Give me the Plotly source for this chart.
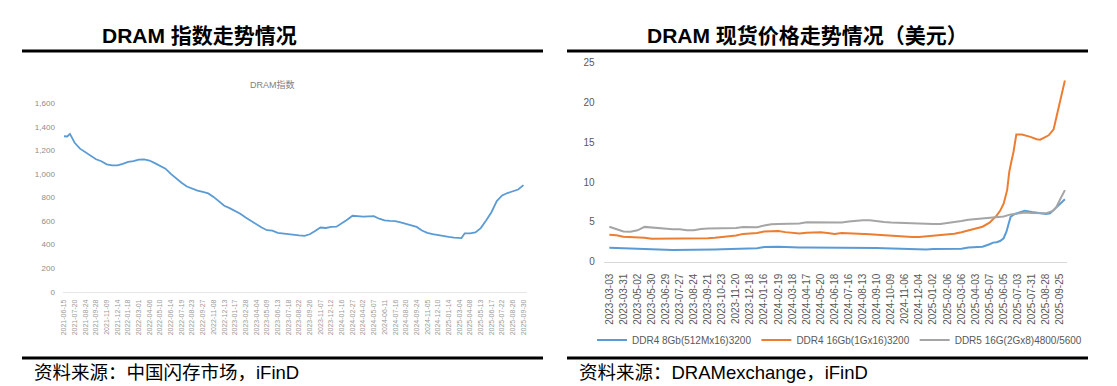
import plotly.graph_objects as go

# The page body keeps its default 8px margin, so the figure is drawn 8px smaller
# and every reference pixel position p is mapped to p - 8 inside the figure.
PAGE_W, PAGE_H = 1117, 386
OFF = 8
W, H = PAGE_W - OFF, PAGE_H - OFF
FONT = "Liberation Sans, Arial, Noto Sans CJK SC"

# ---------------- Left chart: DRAM index (weekly) ----------------
index_weeks = [0, 1.5, 2.8, 5, 7.5, 10, 12.5, 15, 17.5, 20, 22.5, 25, 27.5, 30, 32.5, 35,
               37.5, 40, 42.5, 45, 47.5, 50, 52.5, 55, 57.5, 60, 62.5, 65, 67.5, 70, 72.5,
               75, 77.5, 80, 82.5, 85, 87.5, 90, 92.5, 95, 97.5, 100, 102.5, 105, 107.5,
               110, 112.5, 115, 117.5, 120, 122.5, 125, 127.5, 130, 132.5, 135, 137.5, 140,
               142.5, 145, 147.5, 150, 152.5, 155, 157.5, 160, 162.5, 165, 167.5, 170,
               172.5, 175, 177.5, 180, 182.5, 186, 187.5, 190, 192.5, 195, 197.5, 200,
               202.5, 205, 207.5, 210, 212.5, 215]
index_values = [1320, 1318, 1340, 1265, 1215, 1185, 1162, 1125, 1108, 1082, 1073, 1073, 1086,
                1103, 1108, 1122, 1124, 1114, 1092, 1070, 1045, 1000, 960, 925, 893, 872, 858,
                847, 835, 805, 770, 730, 710, 688, 662, 630, 600, 570, 545, 522, 518, 500, 493,
                488, 484, 478, 474, 488, 516, 545, 541, 550, 552, 580, 612, 645, 640, 637, 640,
                642, 620, 605, 601, 600, 588, 575, 566, 550, 520, 500, 488, 479, 472, 465, 459,
                455, 496, 496, 503, 540, 605, 675, 770, 818, 838, 855, 868, 905]
index_tick_labels = ["2021-06-15", "2021-07-20", "2021-08-24", "2021-09-28", "2021-11-09",
                     "2021-12-14", "2022-01-18", "2022-03-01", "2022-04-06", "2022-05-10",
                     "2022-06-14", "2022-07-19", "2022-08-23", "2022-09-27", "2022-11-08",
                     "2022-12-13", "2023-01-17", "2023-02-28", "2023-04-04", "2023-05-09",
                     "2023-06-13", "2023-07-18", "2023-08-22", "2023-09-26", "2023-11-07",
                     "2023-12-12", "2024-01-16", "2024-02-27", "2024-04-02", "2024-05-07",
                     "2024-06-11", "2024-07-16", "2024-08-20", "2024-09-24", "2024-11-05",
                     "2024-12-10", "2025-01-14", "2025-03-04", "2025-04-08", "2025-05-13",
                     "2025-06-17", "2025-07-22", "2025-08-26", "2025-09-30"]
index_tick_weeks = [5 * i for i in range(len(index_tick_labels))]
index_y_ticks = [0, 200, 400, 600, 800, 1000, 1200, 1400, 1600]

# ---------------- Right chart: DRAM spot prices (trading days) ----------------
spot_tick_labels = ["2023-03-03", "2023-03-31", "2023-05-02", "2023-05-30", "2023-06-29",
                    "2023-07-27", "2023-08-24", "2023-09-21", "2023-10-23", "2023-11-20",
                    "2023-12-18", "2024-01-16", "2024-02-19", "2024-03-18", "2024-04-17",
                    "2024-05-20", "2024-06-18", "2024-07-16", "2024-08-13", "2024-09-10",
                    "2024-10-09", "2024-11-06", "2024-12-04", "2025-01-02", "2025-02-06",
                    "2025-03-06", "2025-04-03", "2025-05-07", "2025-06-05", "2025-07-03",
                    "2025-07-31", "2025-08-28", "2025-09-25"]
spot_tick_days = [20 * i for i in range(len(spot_tick_labels))]
spot_y_ticks = [0, 5, 10, 15, 20, 25]

ddr4_8g_days = [0, 10, 20, 30, 40, 50, 60, 70, 80, 90, 100, 110, 120, 130, 140, 150, 160, 170,
                180, 190, 200, 210, 220, 230, 240, 250, 260, 270, 280, 290, 300, 310, 320, 330,
                340, 350, 360, 370, 380, 390, 400, 410, 420, 430, 440, 450, 460, 470, 480, 490,
                500, 510, 520, 530, 540, 545, 550, 555, 560, 564, 567, 570, 576, 590, 600, 610,
                620, 626, 633, 640, 647]
ddr4_8g_price = [1.76, 1.72, 1.64, 1.60, 1.58, 1.55, 1.53, 1.51, 1.49, 1.47, 1.47, 1.47, 1.47,
                 1.50, 1.52, 1.55, 1.57, 1.60, 1.62, 1.64, 1.64, 1.68, 1.85, 1.89, 1.89, 1.85,
                 1.80, 1.80, 1.80, 1.80, 1.80, 1.78, 1.72, 1.80, 1.80, 1.80, 1.78, 1.74, 1.72,
                 1.70, 1.66, 1.62, 1.60, 1.52, 1.47, 1.52, 1.60, 1.60, 1.60, 1.60, 1.62, 1.78,
                 1.85, 1.89, 2.20, 2.40, 2.45, 2.60, 2.95, 3.77, 4.74, 5.66, 6.00, 6.42, 6.25,
                 6.10, 6.00, 6.08, 6.70, 7.35, 7.85]

ddr4_16g_days = [0, 10, 20, 30, 40, 50, 60, 70, 80, 90, 100, 110, 120, 130, 140, 150, 160, 170,
                 180, 190, 200, 210, 220, 230, 240, 250, 260, 270, 280, 290, 300, 310, 320, 330,
                 340, 350, 360, 370, 380, 390, 400, 410, 420, 430, 440, 450, 460, 470, 480, 490,
                 500, 510, 520, 530, 540, 545, 550, 555, 560, 565, 568, 571, 574, 578, 586, 598,
                 607, 612, 617, 624, 631, 635, 638, 642, 647]
ddr4_16g_price = [3.40, 3.33, 3.15, 3.10, 3.10, 3.00, 2.89, 2.89, 2.89, 2.89, 2.89, 2.89, 2.89,
                  2.86, 2.95, 3.02, 3.10, 3.25, 3.30, 3.50, 3.56, 3.60, 3.80, 3.86, 3.86, 3.72,
                  3.60, 3.56, 3.65, 3.70, 3.70, 3.62, 3.50, 3.62, 3.60, 3.57, 3.55, 3.45, 3.38,
                  3.32, 3.28, 3.25, 3.20, 3.12, 3.12, 3.20, 3.30, 3.40, 3.45, 3.52, 3.70, 3.95,
                  4.15, 4.40, 4.90, 5.30, 5.80, 6.40, 7.30, 9.00, 11.30, 12.60, 13.80, 16.00,
                  16.00, 15.70, 15.40, 15.35, 15.60, 15.90, 16.65, 18.20, 19.50, 21.00, 22.80]

ddr5_16g_days = [0, 10, 20, 30, 40, 50, 60, 70, 80, 90, 100, 110, 120, 130, 140, 150, 160, 170,
                 180, 190, 200, 210, 220, 230, 240, 250, 260, 270, 280, 290, 300, 310, 320, 330,
                 340, 350, 360, 370, 380, 390, 400, 410, 420, 430, 440, 450, 460, 470, 480, 490,
                 500, 510, 520, 530, 540, 550, 560, 570, 580, 590, 600, 610, 620, 630, 635, 640,
                 647]
ddr5_16g_price = [4.40, 4.10, 3.80, 3.77, 3.95, 4.38, 4.28, 4.20, 4.10, 4.07, 4.07, 3.95, 3.95,
                  4.12, 4.18, 4.19, 4.15, 4.20, 4.25, 4.36, 4.33, 4.34, 4.55, 4.70, 4.74, 4.74,
                  4.76, 4.82, 4.95, 4.95, 4.86, 4.86, 4.86, 4.92, 5.05, 5.15, 5.22, 5.22, 5.08,
                  5.00, 4.92, 4.88, 4.83, 4.83, 4.83, 4.78, 4.74, 4.74, 4.85, 4.97, 5.12, 5.28,
                  5.36, 5.48, 5.56, 5.62, 5.70, 5.95, 6.10, 6.18, 6.12, 6.08, 6.08, 6.40, 6.90,
                  7.80, 9.00]

series_names = ["DDR4 8Gb(512Mx16)3200", "DDR4 16Gb(1Gx16)3200", "DDR5 16G(2Gx8)4800/5600"]
series_colors = ["#5B9BD5", "#ED7D31", "#A5A5A5"]

fig = go.Figure()

fig.add_trace(go.Scatter(x=index_weeks, y=index_values, mode="lines", name="DRAM指数",
                         line=dict(color="#5B9BD5", width=1.8), showlegend=False,
                         xaxis="x", yaxis="y"))

for days, price, name, color in zip([ddr4_8g_days, ddr4_16g_days, ddr5_16g_days],
                                    [ddr4_8g_price, ddr4_16g_price, ddr5_16g_price],
                                    series_names, series_colors):
    fig.add_trace(go.Scatter(x=days, y=price, mode="lines", name=name,
                             line=dict(color=color, width=2), xaxis="x2", yaxis="y2"))


def fx(p):
    return (p - OFF) / W


def fy(p):
    return 1 - (p - OFF) / H


fig.update_layout(
    width=W, height=H, autosize=False,
    margin=dict(l=0, r=0, t=0, b=0, autoexpand=False),
    paper_bgcolor="white", plot_bgcolor="white",
    font=dict(family=FONT, color="#595959"),
    xaxis=dict(domain=[fx(62.9), fx(526.7)], range=[-0.5, 216.5],
               tickmode="array", tickvals=index_tick_weeks, ticktext=index_tick_labels,
               tickangle=-90, tickfont=dict(size=7, color="#9a9a9a"),
               showgrid=False, zeroline=False, showline=True, linecolor="#e6e6e6",
               linewidth=1, ticks="", ticklabelstandoff=4, anchor="y"),
    yaxis=dict(domain=[fy(291.7), fy(103.3)], range=[0, 1600],
               tickmode="array", tickvals=index_y_ticks, tickformat=",",
               tickfont=dict(size=8, color="#8c8c8c"),
               showgrid=False, zeroline=False, showline=False, ticks="",
               ticklabelstandoff=7, anchor="x"),
    xaxis2=dict(domain=[fx(603.7), fx(1067.0)], range=[-8, 650],
                tickmode="array", tickvals=spot_tick_days, ticktext=spot_tick_labels,
                tickangle=-90, tickfont=dict(size=10, color="#595959"),
                showgrid=False, zeroline=False, showline=True, linecolor="#d9d9d9",
                linewidth=1, ticks="", ticklabelstandoff=7, anchor="y2"),
    yaxis2=dict(domain=[fy(261.7), fy(62.95)], range=[0, 25],
                tickmode="array", tickvals=spot_y_ticks,
                tickfont=dict(size=10, color="#595959"),
                showgrid=False, zeroline=False, showline=False, ticks="",
                ticklabelstandoff=8, anchor="x2"),
    legend=dict(orientation="h", x=fx(592), xanchor="left", y=fy(340), yanchor="middle",
                font=dict(size=10, color="#595959"), bgcolor="rgba(0,0,0,0)",
                itemwidth=30),
)

# header & footer rules
for x0, x1 in [(22, 543), (567, 1088)]:
    for yy in (51, 358):
        fig.add_shape(type="line", xref="paper", yref="paper",
                      x0=fx(x0), x1=fx(x1), y0=fy(yy), y1=fy(yy),
                      line=dict(color="black", width=3))

annotations = [
    dict(text="<b>DRAM 指数走势情况</b>", x=fx(100), y=fy(35.5), xanchor="left",
         font=dict(size=21, color="black", family=FONT)),
    dict(text="<b>DRAM 现货价格走势情况（美元）</b>", x=fx(645), y=fy(35.5), xanchor="left",
         font=dict(size=21, color="black", family=FONT)),
    dict(text="DRAM指数", x=fx(272), y=fy(84), xanchor="center",
         font=dict(size=9, color="#7f7f7f", family=FONT)),
    dict(text="资料来源：中国闪存市场，iFinD", x=fx(32), y=fy(372), xanchor="left",
         font=dict(size=18.5, color="black", family=FONT)),
    dict(text="资料来源：DRAMexchange，iFinD", x=fx(577), y=fy(372), xanchor="left",
         font=dict(size=18.5, color="black", family=FONT)),
]
for a in annotations:
    fig.add_annotation(xref="paper", yref="paper", yanchor="middle", showarrow=False, **a)

fig.write_html("out.html", config={"displayModeBar": False, "responsive": False})
